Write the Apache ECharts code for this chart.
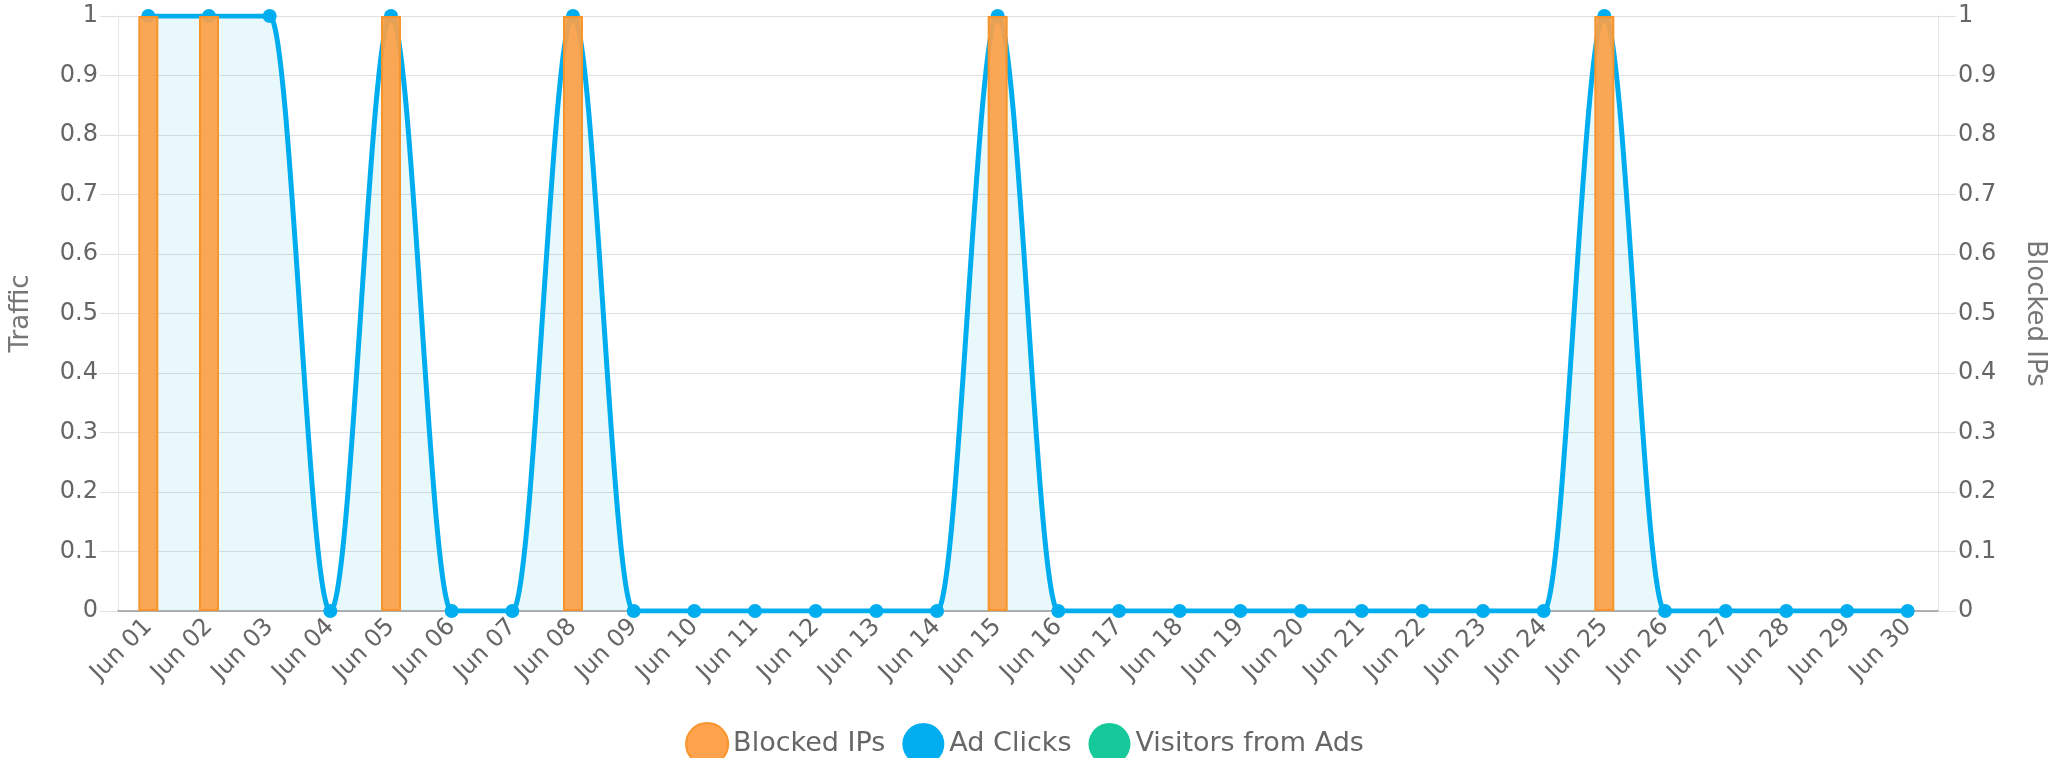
<!DOCTYPE html>
<html><head><meta charset="utf-8">
<script src="https://cdn.jsdelivr.net/npm/echarts@6/dist/echarts.min.js"></script>
<style>html,body{margin:0;padding:0;background:#fff}#c{width:2049px;height:758px}</style>
</head><body><div id="c"></div>
<script>
const categories = ['Jun 01','Jun 02','Jun 03','Jun 04','Jun 05','Jun 06','Jun 07','Jun 08','Jun 09','Jun 10',
  'Jun 11','Jun 12','Jun 13','Jun 14','Jun 15','Jun 16','Jun 17','Jun 18','Jun 19','Jun 20',
  'Jun 21','Jun 22','Jun 23','Jun 24','Jun 25','Jun 26','Jun 27','Jun 28','Jun 29','Jun 30'];
const blockedIPs = [1,1,0,0,1,0,0,1,0,0, 0,0,0,0,1,0,0,0,0,0, 0,0,0,0,1,0,0,0,0,0];
const adClicks   = [1,1,1,0,1,0,0,1,0,0, 0,0,0,0,1,0,0,0,0,0, 0,0,0,0,1,0,0,0,0,0];
const visitorsFromAds = [];
const seriesNames = ['Blocked IPs', 'Ad Clicks', 'Visitors from Ads'];
const axisNames = ['Traffic', 'Blocked IPs'];

const FONT = 'DejaVu Sans';
const labelColor = '#666';
const gridColor = '#e0e0e0';

const yAxisBase = {
  type: 'value', min: 0, max: 1, interval: 0.1,
  nameLocation: 'middle', nameGap: 84,
  nameTextStyle: { fontFamily: FONT, fontSize: 26, color: '#777' },
  axisLine: { show: true, lineStyle: { color: '#e6e6e6', width: 1 } },
  axisTick: { show: true, length: 18, lineStyle: { color: gridColor } },
  axisLabel: { margin: 20, fontFamily: FONT, fontSize: 24, color: labelColor },
};

const chart = echarts.init(document.getElementById('c'), null, { renderer: 'canvas' });
chart.setOption({
  animation: false,
  grid: { left: 118, right: 111, top: 16, bottom: 147, containLabel: false, outerBoundsMode: 'none' },
  legend: {
    data: [
      { name: seriesNames[0], itemStyle: { color: '#FFA24E', borderColor: '#F7942C', borderWidth: 2 } },
      seriesNames[1], seriesNames[2]
    ],
    icon: 'circle', itemWidth: 42, itemHeight: 42, itemGap: 17,
    top: 717, left: 'center',
    textStyle: { fontFamily: FONT, fontSize: 27, color: labelColor }
  },
  xAxis: {
    type: 'category', data: categories, boundaryGap: true,
    axisLine: { show: true, lineStyle: { color: '#999', width: 1.5 } },
    axisTick: { show: false },
    axisLabel: { rotate: 45, interval: 0, margin: 12, fontFamily: FONT, fontSize: 24, color: labelColor },
    splitLine: { show: false }
  },
  yAxis: [
    Object.assign({}, yAxisBase, {
      position: 'left', name: axisNames[0],
      splitLine: { show: true, lineStyle: { color: gridColor, width: 1 } }
    }),
    Object.assign({}, yAxisBase, {
      position: 'right', name: axisNames[1], nameRotate: -90, nameGap: 84,
      splitLine: { show: false }
    })
  ],
  series: [
    {
      name: seriesNames[0], type: 'bar', yAxisIndex: 1, z: 3,
      data: blockedIPs.map(v => (v === 0 ? null : v)),
      barWidth: 20,
      itemStyle: { color: 'rgba(250,160,70,0.92)', borderColor: '#F7942C', borderWidth: 2 }
    },
    {
      name: seriesNames[1], type: 'line', yAxisIndex: 0, z: 2,
      data: adClicks,
      smooth: 0.35, smoothMonotone: 'x',
      symbol: 'circle', symbolSize: 14, showSymbol: true,
      lineStyle: { width: 5, color: '#00AEEF' },
      itemStyle: { color: '#00AEEF' },
      areaStyle: { color: 'rgba(0,173,200,0.12)' }
    },
    {
      name: seriesNames[2], type: 'line', yAxisIndex: 0,
      data: visitorsFromAds,
      symbol: 'circle', symbolSize: 12,
      itemStyle: { color: '#16C99A' },
      lineStyle: { color: '#16C99A' }
    }
  ]
});
</script>
</body></html>
